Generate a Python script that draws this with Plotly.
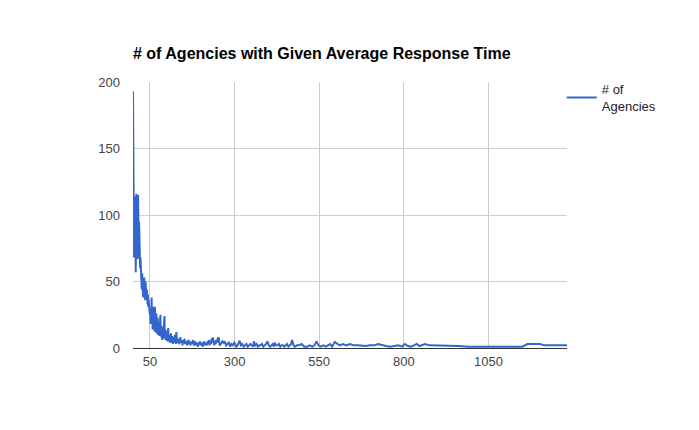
import plotly.graph_objects as go

title_text = "# of Agencies with Given Average Response Time"
series_name = "# of<br>Agencies"

x_tick_vals = [50, 300, 550, 800, 1050]
x_tick_text = ["50", "300", "550", "800", "1050"]
y_tick_vals = [0, 50, 100, 150, 200]

resp_time = [
    0, 1, 2, 3, 4, 5, 6, 7, 8, 9, 10, 11, 12, 13, 14, 15, 16, 17, 18, 19,
    20, 21, 22, 23, 24, 25, 26, 27, 28, 29, 30, 31, 32, 33, 34, 35, 36, 37, 38, 39,
    40, 41, 42, 43, 44, 45, 46, 47, 48, 49, 50, 51, 52, 53, 54, 55, 56, 57, 58, 59,
    60, 61, 62, 63, 64, 65, 66, 67, 68, 69, 70, 71, 72, 73, 74, 75, 76, 77, 78, 79,
    80, 81, 82, 83, 84, 85, 86, 87, 88, 89, 90, 91, 92, 93, 94, 95, 96, 97, 98, 99,
    100, 101, 102, 103, 104, 105, 106, 107, 108, 109, 110, 111, 112, 113, 114, 115, 116, 117, 118, 119,
    120, 121, 122, 123, 124, 125, 126, 127, 128, 129, 130,
    132, 134, 136, 138, 140, 142, 144, 146, 148, 150, 152, 154, 156, 158, 160, 162, 164, 166, 168, 170,
    172, 174, 176, 178, 180, 182, 184, 186, 188, 190, 192, 194, 196, 198, 200, 202, 204, 206, 208, 210,
    212, 214, 216, 218, 220, 222, 224, 226, 228, 230, 232, 234, 236, 238, 240, 242, 244, 246, 248, 250,
    253, 256, 260, 264, 268, 271, 275, 279, 283, 287, 291, 295, 299, 302, 305, 309, 312, 315, 319, 323,
    327, 331, 335, 339, 343, 347, 351, 355, 357, 361, 365, 369, 373, 377, 381, 385, 389, 393, 397, 401,
    405, 409, 413, 416, 419, 423, 427, 431, 435, 439, 443, 447, 451, 455, 459, 463, 467, 470, 474, 478,
    484, 490, 498, 506, 514, 522, 530, 536, 542, 548, 555, 562, 570, 576, 582, 588, 596, 604, 612, 620,
    630, 641, 652, 664, 676, 688, 700,
    712, 724, 736, 748, 760, 772, 784, 795, 803, 812, 822, 830, 838, 846, 854, 863, 875, 890, 910, 935,
    960, 990, 1020, 1050, 1080, 1110, 1140, 1150, 1165, 1185, 1203, 1215, 1240, 1260, 1282,
]

agencies = [
    193, 161, 116, 68, 110, 96, 75, 114, 57, 90, 116, 72, 108, 85, 67, 115, 80, 70, 95, 67,
    72, 60, 68, 58, 66, 51, 44, 56, 42, 50, 38, 48, 43, 53, 40, 47, 36, 50, 41, 45,
    37, 44, 38, 33, 40, 31, 36, 33, 29, 33, 25, 30, 18, 27, 22, 38, 20, 28, 14, 24,
    31, 16, 26, 13, 20, 31, 12, 22, 15, 26, 11, 19, 14, 23, 10, 17, 12, 20, 9, 15,
    11, 25, 10, 17, 8, 14, 6, 12, 16, 7, 13, 9, 18, 24, 8, 14, 6, 11, 8, 13,
    7, 10, 5, 12, 15, 6, 9, 5, 10, 4, 8, 6, 11, 5, 7, 4, 9, 6, 3, 7,
    5, 8, 4, 6, 10, 5, 7, 3, 12, 6, 4,
    7, 5, 3, 6, 8, 4, 5, 2, 6, 4, 7, 3, 5, 4, 2, 5, 6, 3, 4, 2,
    5, 3, 4, 6, 2, 3, 5, 2, 4, 3, 1, 4, 3, 5, 2, 3, 4, 1, 3, 5,
    2, 4, 3, 2, 5, 3, 6, 2, 4, 3, 7, 4, 8, 3, 2, 5, 3, 6, 4, 7,
    8, 2, 3, 5, 4, 5, 2, 3, 4, 1, 3, 2, 4, 3, 1, 2, 4, 5.5, 2, 3,
    1, 2, 3, 1, 2, 3, 2, 1, 5, 2, 3, 1, 2, 2, 3, 1, 2, 3, 5, 2,
    1, 2, 3, 1, 4, 2, 2, 3, 1, 2, 2, 1, 2, 3, 1, 2, 3, 6, 2, 1,
    2, 2, 3, 1, 1, 2, 1, 2, 5, 2, 1, 2, 1, 2, 3, 1, 4.5, 3, 2, 3,
    2, 3, 2, 2, 1.5, 1.5, 2,
    2, 3, 2, 1.5, 1, 1.5, 2, 1, 3, 1.5, 1, 2, 3, 1.5, 2, 3, 2, 2, 2, 1.5,
    1.5, 1, 1, 1, 1, 1, 1, 1, 3, 3, 3, 2, 2, 2, 2,
]

font_family = "Liberation Sans, Arial, sans-serif"

fig = go.Figure()
fig.add_trace(go.Scatter(
    x=resp_time, y=agencies, mode="lines", name=series_name,
    line=dict(color="#3366cc", width=2), showlegend=True,
))

fig.update_layout(
    width=699, height=430,
    margin=dict(l=133, r=132, t=82, b=82),
    paper_bgcolor="white", plot_bgcolor="white",
    font=dict(family=font_family, size=13, color="#444444"),
    title=dict(
        text="<b>" + title_text + "</b>",
        x=0, xref="paper", xanchor="left",
        y=1 - 53 / 430, yref="container", yanchor="middle",
        font=dict(family=font_family, size=16, color="#000000"),
    ),
    showlegend=True,
    legend=dict(
        x=0.988, xanchor="left", y=1.03, yanchor="top",
        bgcolor="rgba(0,0,0,0)", borderwidth=0,
        font=dict(family=font_family, size=13, color="#222222"),
    ),
    xaxis=dict(
        range=[0, 1282], tickvals=x_tick_vals, ticktext=x_tick_text,
        showgrid=True, gridcolor="#cccccc", gridwidth=1,
        zeroline=False, showline=False, ticks="", ticklabelstandoff=4,
        tickfont=dict(size=13, color="#444444"),
    ),
    yaxis=dict(
        range=[0, 200], tickvals=y_tick_vals,
        showgrid=True, gridcolor="#cccccc", gridwidth=1,
        zeroline=True, zerolinecolor="#333333", zerolinewidth=1,
        showline=False, ticks="", ticklabelstandoff=12,
        tickfont=dict(size=13, color="#444444"),
    ),
)

fig.write_html("out.html")
